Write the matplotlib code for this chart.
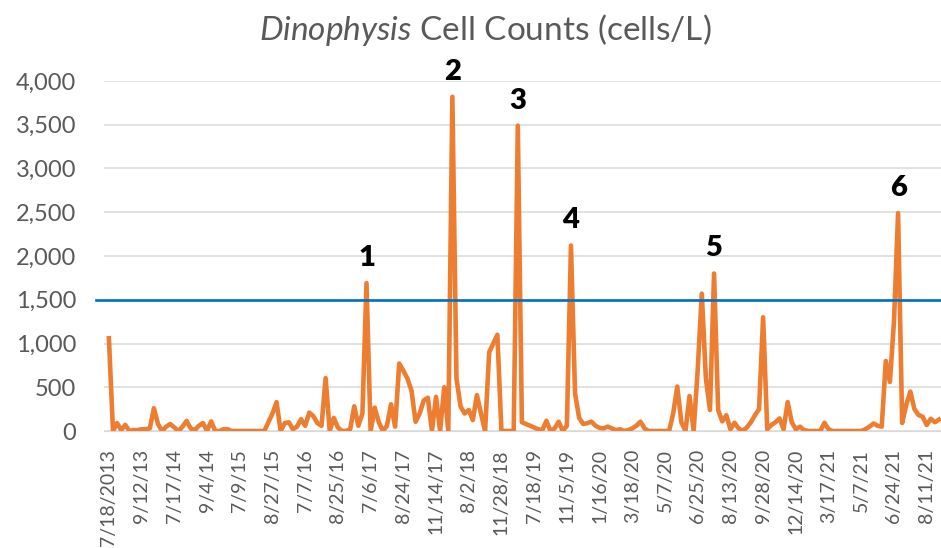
import matplotlib
matplotlib.use("Agg")
import matplotlib.pyplot as plt
from matplotlib.ticker import FuncFormatter, MultipleLocator
import numpy as np

plt.rcParams['font.family'] = ['Lato', 'DejaVu Sans']
plt.rcParams['mathtext.fontset'] = 'custom'
plt.rcParams['mathtext.rm'] = 'Lato'
plt.rcParams['mathtext.it'] = 'Lato:italic'

# cell counts (cells/L), one value per sampling date
counts = [
    1060, 0, 90, 10, 70, 0, 10, 10, 20, 20,
    30, 260, 80, 0, 50, 80, 40, 0, 50, 115,
    30, 10, 60, 90, 0, 110, 0, 0, 20, 20,
    0, 0, 0, 0, 0, 0, 0, 0, 0, 100,
    200, 330, 0, 90, 100, 20, 50, 135, 60, 210,
    170, 90, 60, 605, 0, 150, 40, 0, 0, 20,
    282, 60, 200, 1690, 0, 267, 100, 0, 60, 305,
    50, 771, 690, 600, 462, 105, 200, 350, 380, 0,
    390, 0, 500, 0, 3820, 600, 280, 200, 240, 125,
    410, 200, 0, 900, 1000, 1100, 0, 0, 0, 0,
    3490, 100, 80, 60, 40, 20, 10, 117, 0, 30,
    105, 0, 60, 2120, 430, 150, 80, 90, 107, 60,
    35, 30, 50, 30, 10, 20, 0, 10, 30, 60,
    107, 30, 0, 0, 0, 0, 0, 0, 200, 508,
    100, 0, 400, 0, 700, 1570, 600, 240, 1800, 240,
    110, 180, 20, 94, 30, 0, 40, 100, 180, 250,
    1300, 20, 68, 100, 143, 20, 330, 100, 20, 50,
    10, 0, 0, 0, 0, 94, 20, 0, 0, 0,
    0, 0, 0, 0, 0, 20, 50, 86, 60, 50,
    800, 560, 1250, 2490, 92, 300, 450, 250, 183, 164,
    69, 140, 100, 130,
]
date_labels = ['7/18/2013', '9/12/13', '7/17/14', '9/4/14', '7/9/15', '8/27/15',
               '7/7/16', '8/25/16', '7/6/17', '8/24/17', '11/14/17', '8/2/18',
               '11/28/18', '7/18/19', '11/5/19', '1/16/20', '3/18/20', '5/7/20',
               '6/25/20', '8/13/20', '9/28/20', '12/14/20', '3/17/21', '5/7/21',
               '6/24/21', '8/11/21']
label_every = 8
threshold = 1500
event_idx = [63, 84, 100, 113, 148, 193]
event_names = ['1', '2', '3', '4', '5', '6']

x = np.arange(len(counts))

fig = plt.figure(figsize=(9.41, 5.48), dpi=100)
ax = fig.add_axes([104/941, 117/548, 1 - 104/941, 350/548])

ax.plot(x, counts, color='#ED7D31', lw=3.3, solid_joinstyle='round', zorder=3)
ax.axhline(threshold, xmin=-0.009, xmax=1, color='#0070C0', lw=1.9, clip_on=False, zorder=4)

for i, name in zip(event_idx, event_names):
    ax.annotate(name, (i, counts[i]), xytext=(0, 18), textcoords='offset points',
                ha='center', va='center', fontsize=21, fontweight='heavy', color='black')

ax.set_ylim(0, 4000)
ax.set_xlim(-1.2, len(counts) - 0.5)
ax.yaxis.set_major_locator(MultipleLocator(500))
ax.yaxis.set_major_formatter(FuncFormatter(lambda v, p: f'{int(v):,}'))
ax.set_xticks(x[::label_every][:len(date_labels)])
ax.set_xticklabels(date_labels, rotation=90)
ax.grid(axis='y', color='#D9D9D9', lw=1.1)
ax.set_axisbelow(True)
for s in ['top', 'right', 'left']:
    ax.spines[s].set_visible(False)
ax.spines['bottom'].set_color('#D9D9D9')
ax.tick_params(axis='y', length=0, pad=20, labelsize=17, labelcolor='#595959')
ax.tick_params(axis='x', length=0, pad=13, labelsize=14, labelcolor='#595959')

fig.text(485/941, 1 - 30/548, r'$\it{Dinophysis}$ Cell Counts (cells/L)',
         ha='center', va='center', fontsize=24, color='#595959')

fig.savefig('out.png', dpi=100)
